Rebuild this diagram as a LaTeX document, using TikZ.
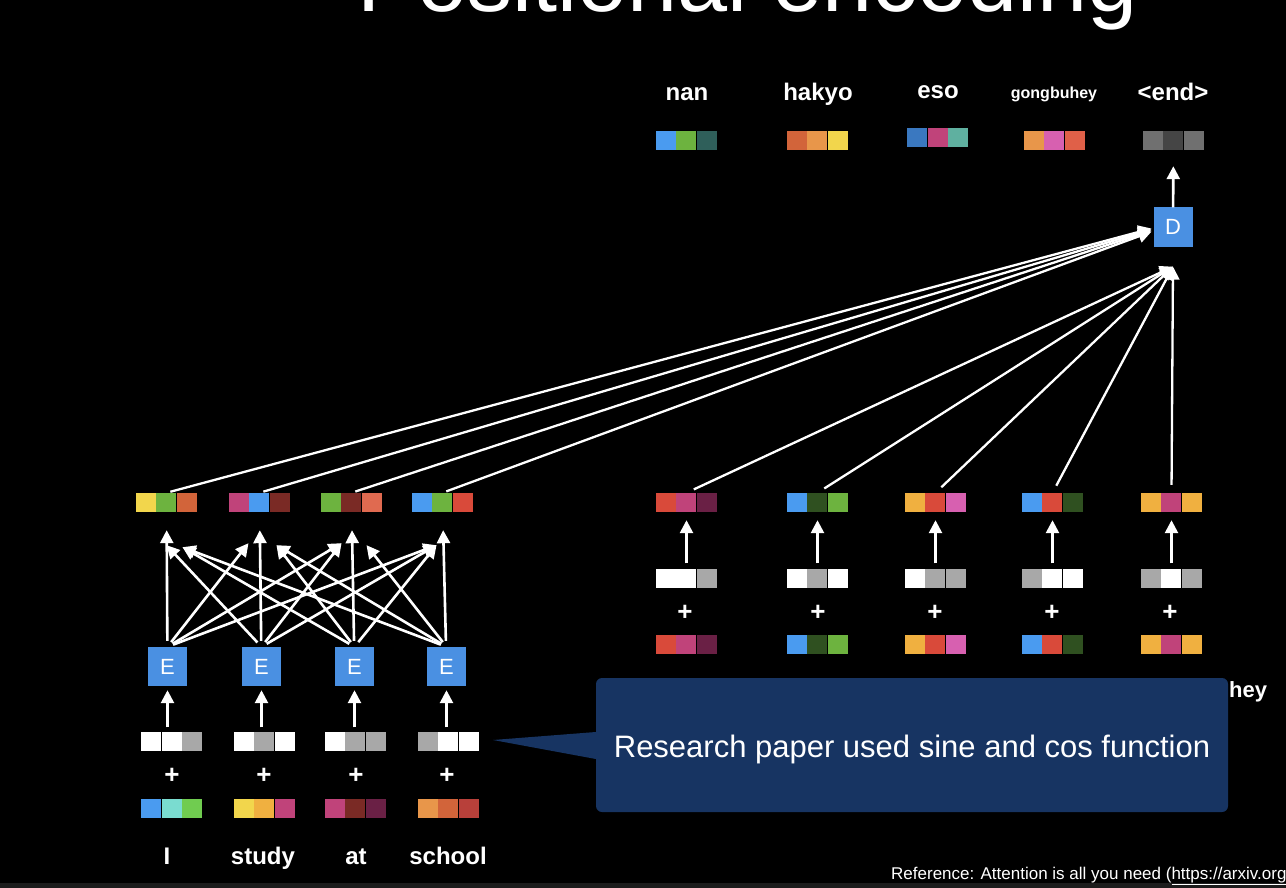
\documentclass[tikz,border=0pt]{standalone}
\usepackage{fontspec}
\setmainfont{Liberation Sans}
\usetikzlibrary{arrows.meta}
\definecolor{SkyBlue}{RGB}{74,155,240}
\definecolor{LeafGreen}{RGB}{109,179,63}
\definecolor{DeepTeal}{RGB}{47,95,90}
\definecolor{Rust}{RGB}{210,100,58}
\definecolor{Amber}{RGB}{232,150,74}
\definecolor{Lemon}{RGB}{242,214,76}
\definecolor{Cobalt}{RGB}{58,120,192}
\definecolor{Berry}{RGB}{192,67,122}
\definecolor{SeaTeal}{RGB}{95,176,160}
\definecolor{Orchid}{RGB}{215,96,176}
\definecolor{Coral}{RGB}{224,96,72}
\definecolor{MidGray}{RGB}{112,112,112}
\definecolor{DarkGray}{RGB}{69,69,69}
\definecolor{Maroon}{RGB}{122,42,37}
\definecolor{Salmon}{RGB}{224,106,80}
\definecolor{Scarlet}{RGB}{217,74,58}
\definecolor{Plum}{RGB}{106,32,69}
\definecolor{Moss}{RGB}{47,80,32}
\definecolor{Gold}{RGB}{240,176,64}
\definecolor{Aqua}{RGB}{122,220,208}
\definecolor{Lime}{RGB}{112,204,80}
\definecolor{Brick}{RGB}{184,64,58}
\definecolor{PosGray}{RGB}{168,168,168}
\definecolor{BoxBlue}{RGB}{74,144,226}
\definecolor{PaperNavy}{RGB}{23,52,98}
\definecolor{StripGray}{RGB}{28,28,28}
\tikzset{
  vec/.style={rectangle, minimum width=61pt, minimum height=19pt, inner sep=0pt},
  coder/.style={rectangle, fill=BoxBlue, minimum width=39pt, minimum height=39pt,
                inner sep=0pt, text=white, font=\fontsize{22}{22}\selectfont},
  lbl/.style={text=white, font=\fontsize{24}{24}\selectfont\bfseries, inner sep=0pt, anchor=base},
  plus/.style={text=white, font=\fontsize{26}{26}\selectfont\bfseries, inner sep=0pt},
  arr/.style={-{Triangle[length=13pt,width=13pt]}, line width=2.6pt, white},
  link/.style={-{Triangle[length=13pt,width=13pt]}, line width=2.3pt, white}
}
% token vector: name, centre, three cell colours
\newcommand{\tokvec}[5]{%
  \node[vec] (#1) at (#2) {};
  \fill[#3] (#1.north west) rectangle ++(20,19);
  \fill[#4] ([xshift=20.5pt]#1.north west) rectangle ++(20,19);
  \fill[#5] ([xshift=41pt]#1.north west) rectangle ++(20,19);
}

\begin{document}
\begin{tikzpicture}[x=1pt,y=-1pt]
\useasboundingbox (0,0) rectangle (1286,888);
\fill[black] (0,0) rectangle (1286,888);
\clip (0,0) rectangle (1286,888);
\fill[StripGray] (0,883) rectangle (1286,888);
\node[text=white, font=\fontsize{90}{90}\selectfont, inner sep=0pt, anchor=base] (title) at (748,12) {Positional encoding};

% output words
\node[lbl] (nan) at (687,101) {nan};
\node[lbl] (hakyo) at (818,101) {hakyo};
\node[lbl] (eso) at (938,99) {eso};
\node[lbl, font=\fontsize{16}{16}\selectfont\bfseries] (gong) at (1054,99) {gongbuhey};
\node[lbl] (endtok) at (1173,101) {<end>};
\tokvec{t1}{686.5,140.5}{SkyBlue}{LeafGreen}{DeepTeal}
\tokvec{t2}{817.5,140.5}{Rust}{Amber}{Lemon}
\tokvec{t3}{938,137.5}{Cobalt}{Berry}{SeaTeal}
\tokvec{t4}{1054.5,140.5}{Amber}{Orchid}{Coral}
\tokvec{t5}{1173.5,140.5}{MidGray}{DarkGray}{MidGray}

\node[coder] (d) at (1173,227) {D};
\coordinate (dj) at ([yshift=-20pt]d.south);
\draw[arr, shorten >=16pt] (d) -- (t5);

% encoder
\tokvec{enc1}{166.5,502.5}{Lemon}{LeafGreen}{Rust}
\tokvec{enc2}{259.5,502.5}{Berry}{SkyBlue}{Maroon}
\tokvec{enc3}{351.5,502.5}{LeafGreen}{Maroon}{Salmon}
\tokvec{enc4}{442.5,502.5}{SkyBlue}{LeafGreen}{Scarlet}
\node[coder] (e1) at (167.5,666.5) {E};
\node[coder] (e2) at (261.5,666.5) {E};
\node[coder] (e3) at (354.5,666.5) {E};
\node[coder] (e4) at (446.5,666.5) {E};
\tokvec{pe1}{172,742}{white}{white}{PosGray}
\tokvec{pe2}{264.5,742}{white}{PosGray}{white}
\tokvec{pe3}{355.5,742}{white}{PosGray}{PosGray}
\tokvec{pe4}{448.5,742}{PosGray}{white}{white}
\node[plus] (pl1) at (172,776) {+};
\node[plus] (pl2) at (264,776) {+};
\node[plus] (pl3) at (356,776) {+};
\node[plus] (pl4) at (447,776) {+};
\tokvec{we1}{172,809}{SkyBlue}{Aqua}{Lime}
\tokvec{we2}{264.5,809}{Lemon}{Gold}{Berry}
\tokvec{we3}{355.5,809}{Berry}{Maroon}{Plum}
\tokvec{we4}{448.5,809}{Amber}{Rust}{Brick}
\node[lbl] (w1) at (167,864) {I};
\node[lbl] (w2) at (263,864) {study};
\node[lbl] (w3) at (356,864) {at};
\node[lbl] (w4) at (448,864) {school};

\draw[arr, shorten <=5pt, shorten >=4pt] (e1.south |- pe1.north) -- (e1.south);
\draw[arr, shorten <=5pt, shorten >=4pt] (e2.south |- pe2.north) -- (e2.south);
\draw[arr, shorten <=5pt, shorten >=4pt] (e3.south |- pe3.north) -- (e3.south);
\draw[arr, shorten <=5pt, shorten >=4pt] (e4.south |- pe4.north) -- (e4.south);

\draw[arr, shorten <=6pt, shorten >=18pt] (e1) -- (enc1);
\draw[arr, shorten <=6pt, shorten >=18pt] (e2) -- (enc2);
\draw[arr, shorten <=6pt, shorten >=18pt] (e3) -- (enc3);
\draw[arr, shorten <=6pt, shorten >=18pt] (e4) -- (enc4);
\draw[arr, shorten <=6pt] (e1.north) -- ([xshift=-11pt,yshift=-31pt]enc2.south);
\draw[arr, shorten <=6pt] (e1.north) -- ([xshift=-10pt,yshift=-31pt]enc3.south);
\draw[arr, shorten <=6pt] (e1.north) -- ([xshift=-6pt,yshift=-33pt]enc4.south);
\draw[arr, shorten <=6pt] (e2.north) -- ([xshift=0pt,yshift=-33pt]enc1.south);
\draw[arr, shorten <=6pt] (e2.north) -- ([xshift=-10pt,yshift=-31pt]enc3.south);
\draw[arr, shorten <=6pt] (e2.north) -- ([xshift=-6pt,yshift=-33pt]enc4.south);
\draw[arr, shorten <=6pt] (e3.north) -- ([xshift=16pt,yshift=-35pt]enc1.south);
\draw[arr, shorten <=6pt] (e3.north) -- ([xshift=17pt,yshift=-33pt]enc2.south);
\draw[arr, shorten <=6pt] (e3.north) -- ([xshift=-6pt,yshift=-33pt]enc4.south);
\draw[arr, shorten <=6pt] (e4.north) -- ([xshift=16pt,yshift=-35pt]enc1.south);
\draw[arr, shorten <=6pt] (e4.north) -- ([xshift=17pt,yshift=-33pt]enc2.south);
\draw[arr, shorten <=6pt] (e4.north) -- ([xshift=15pt,yshift=-33pt]enc3.south);

\draw[link, shorten <=4pt, shorten >=2pt] (enc1.north) -- ([yshift=-1pt]d.west);
\draw[link, shorten <=4pt, shorten >=2pt] (enc2.north) -- ([yshift=-2pt]d.west);
\draw[link, shorten <=4pt, shorten >=2pt] (enc3.north) -- ([yshift=-3pt]d.west);
\draw[link, shorten <=4pt, shorten >=2pt] (enc4.north) -- ([yshift=-4pt]d.west);

% decoder
\tokvec{dout1}{686.5,502.5}{Scarlet}{Berry}{Plum}
\tokvec{dout2}{817.5,502.5}{SkyBlue}{Moss}{LeafGreen}
\tokvec{dout3}{935.5,502.5}{Gold}{Scarlet}{Orchid}
\tokvec{dout4}{1052.5,502.5}{SkyBlue}{Scarlet}{Moss}
\tokvec{dout5}{1171.5,502.5}{Gold}{Berry}{Gold}
\tokvec{pd1}{686.5,579}{white}{white}{PosGray}
\tokvec{pd2}{817.5,579}{white}{PosGray}{white}
\tokvec{pd3}{935.5,579}{white}{PosGray}{PosGray}
\tokvec{pd4}{1052.5,579}{PosGray}{white}{white}
\tokvec{pd5}{1171.5,579}{PosGray}{white}{PosGray}
\node[plus] (pl5) at (685,613) {+};
\node[plus] (pl6) at (818,613) {+};
\node[plus] (pl7) at (935,613) {+};
\node[plus] (pl8) at (1052,613) {+};
\node[plus] (pl9) at (1170,613) {+};
\tokvec{wd1}{686.5,645}{Scarlet}{Berry}{Plum}
\tokvec{wd2}{817.5,645}{SkyBlue}{Moss}{LeafGreen}
\tokvec{wd3}{935.5,645}{Gold}{Scarlet}{Orchid}
\tokvec{wd4}{1052.5,645}{SkyBlue}{Scarlet}{Moss}
\tokvec{wd5}{1171.5,645}{Gold}{Berry}{Gold}

\draw[arr, shorten <=6pt, shorten >=8pt] (pd1) -- (dout1);
\draw[arr, shorten <=6pt, shorten >=8pt] (pd2) -- (dout2);
\draw[arr, shorten <=6pt, shorten >=8pt] (pd3) -- (dout3);
\draw[arr, shorten <=6pt, shorten >=8pt] (pd4) -- (dout4);
\draw[arr, shorten <=6pt, shorten >=8pt] (pd5) -- (dout5);

\draw[link, shorten <=8pt] (dout1.north) -- (dj);
\draw[link, shorten <=8pt] (dout2.north) -- (dj);
\draw[link, shorten <=8pt] (dout3.north) -- (dj);
\draw[link, shorten <=8pt] (dout4.north) -- (dj);
\draw[link, shorten <=8pt] (dout5.north) -- (dj);

% note
\node[text=white, font=\fontsize{22}{22}\selectfont\bfseries, inner sep=0pt, anchor=base west] (hey) at (1229,697) {hey};
\node[rectangle, rounded corners=6pt, fill=PaperNavy, minimum width=632pt, minimum height=134pt,
      text=white, font=\fontsize{31}{31}\selectfont] (note) at (912,745) {};
\node[text=white, font=\fontsize{31}{31}\selectfont, inner sep=0pt, anchor=base] (notetext) at (912,757) {Research paper used sine and cos function};
\fill[PaperNavy] (493,740) -- ([yshift=13pt]note.west) -- ([yshift=-14pt]note.west) -- cycle;
\node[text=white, font=\fontsize{17}{17}\selectfont, inner sep=0pt, anchor=base west] (ref) at (891,879)
  {Reference: Attention is all you need (\underline{https://arxiv.org}};
\end{tikzpicture}
\end{document}
